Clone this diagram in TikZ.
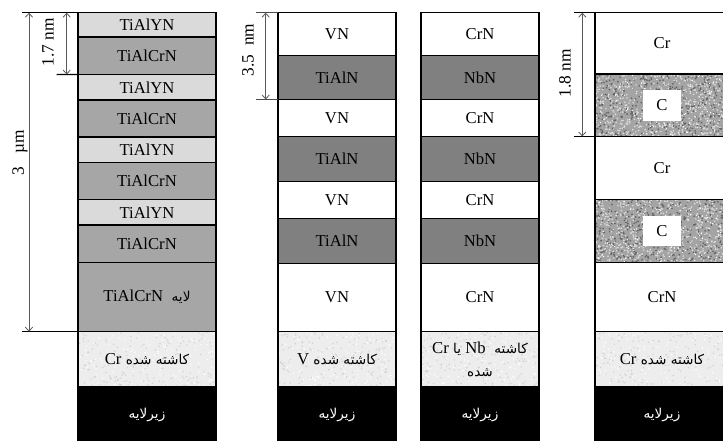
\documentclass[tikz,border=0pt]{standalone}
\usepackage{fontspec}
\setmainfont{Liberation Serif}
\newfontfamily\arabicfont[Script=Arabic]{DejaVu Sans}
\TeXXeTstate=1
\usetikzlibrary{arrows.meta}

\definecolor{yn}{HTML}{DADADA}
\definecolor{crn}{HTML}{A6A6A6}
\definecolor{aln}{HTML}{808080}
\definecolor{etch}{HTML}{EDEDED}
\definecolor{carb}{HTML}{A4A4A4}

\newcommand\fatext[1]{{\arabicfont\fontsize{10.2}{14}\selectfont\beginR #1\endR}}
\newcommand\latw[1]{\beginL{\rmfamily\fontsize{12.5}{14}\selectfont #1}\endL}
\newcommand\lay[7]{\node[#6, minimum width={(#3-#2)*0.75pt}, minimum height={(#5-#4)*0.75pt}] (#1) at (#2,#4) {#7};}
\newcommand\speck[7]{%
  \foreach \k in {1,...,#5}{%
    \pgfmathsetmacro\spx{#1+rnd*(#2-#1)}%
    \pgfmathsetmacro\spy{#3+rnd*(#4-#3)}%
    \fill[#6] (\spx,\spy) circle[radius=#7];}}
\newcommand\etchbg[4]{\begin{scope}\clip (#1,#3) rectangle (#2,#4);
  \fill[etch] (#1,#3) rectangle (#2,#4);
  \speck{#1}{#2}{#3}{#4}{170}{black!18}{0.6pt}
  \speck{#1}{#2}{#3}{#4}{120}{white}{0.6pt}\end{scope}}
\newcommand\carbbg[4]{\begin{scope}\clip (#1,#3) rectangle (#2,#4);
  \fill[carb] (#1,#3) rectangle (#2,#4);
  \speck{#1}{#2}{#3}{#4}{450}{black!62}{0.7pt}
  \speck{#1}{#2}{#3}{#4}{450}{black!14}{0.7pt}
  \speck{#1}{#2}{#3}{#4}{250}{white}{0.5pt}\end{scope}}

\tikzset{
  layer/.style={draw=black, line width=1.1pt, inner sep=0pt, outer sep=0pt,
    anchor=north west, font=\fontsize{12.5}{14}\selectfont, align=center},
  sub/.style={layer, fill=black, text=white},
  dimline/.style={draw=black!65, line width=0.6pt,
    {Straight Barb[length=3pt,width=5.5pt]}-{Straight Barb[length=3pt,width=5.5pt]}},
  extline/.style={draw=black, line width=0.9pt},
  dimlabel/.style={rotate=90, font=\fontsize{13}{15}\selectfont, inner sep=0pt},
  clabel/.style={fill=white, inner sep=0pt, minimum width=28.5pt,
    minimum height=23pt, font=\fontsize{12.5}{14}\selectfont}
}

\begin{document}
\begin{tikzpicture}[x=0.75pt,y=-0.75pt]
\useasboundingbox (0,0) rectangle (723,441);
\clip (0,0) rectangle (723,441);
\pgfmathsetseed{12}

% ---- column 1
\lay{a1}{78}{216}{12.7}{37.2}{layer,fill=yn}{TiAlYN}
\lay{a2}{78}{216}{37.2}{74.5}{layer,fill=crn}{TiAlCrN}
\lay{a3}{78}{216}{74.5}{100}{layer,fill=yn}{TiAlYN}
\lay{a4}{78}{216}{100}{137}{layer,fill=crn}{TiAlCrN}
\lay{a5}{78}{216}{137}{162.5}{layer,fill=yn}{TiAlYN}
\lay{a6}{78}{216}{162.5}{199.5}{layer,fill=crn}{TiAlCrN}
\lay{a7}{78}{216}{199.5}{225}{layer,fill=yn}{TiAlYN}
\lay{a8}{78}{216}{225}{262.7}{layer,fill=crn}{TiAlCrN}
\lay{a9}{78}{216}{262.7}{331.7}{layer,fill=crn}{\fatext{لایه \ \latw{TiAlCrN}}}
\etchbg{78}{216}{331.7}{386.7}
\lay{a10}{78}{216}{331.7}{386.7}{layer}{\fatext{کاشته شده \latw{Cr}}}
\lay{a11}{78}{216}{386.7}{444}{sub}{\fatext{زیرلایه}}

% ---- column 2
\lay{b1}{278}{396}{12.7}{55.5}{layer,fill=white}{VN}
\lay{b2}{278}{396}{55.5}{99.5}{layer,fill=aln}{TiAlN}
\lay{b3}{278}{396}{99.5}{136.5}{layer,fill=white}{VN}
\lay{b4}{278}{396}{136.5}{181.7}{layer,fill=aln}{TiAlN}
\lay{b5}{278}{396}{181.7}{218.3}{layer,fill=white}{VN}
\lay{b6}{278}{396}{218.3}{263.3}{layer,fill=aln}{TiAlN}
\lay{b7}{278}{396}{263.3}{331.7}{layer,fill=white}{VN}
\etchbg{278}{396}{331.7}{386.7}
\lay{b8}{278}{396}{331.7}{386.7}{layer}{\fatext{کاشته شده \latw{V}}}
\lay{b9}{278}{396}{386.7}{444}{sub}{\fatext{زیرلایه}}

% ---- column 3
\lay{c1}{421}{539}{12.7}{55.5}{layer,fill=white}{CrN}
\lay{c2}{421}{539}{55.5}{99.5}{layer,fill=aln}{NbN}
\lay{c3}{421}{539}{99.5}{136.5}{layer,fill=white}{CrN}
\lay{c4}{421}{539}{136.5}{181.7}{layer,fill=aln}{NbN}
\lay{c5}{421}{539}{181.7}{218.3}{layer,fill=white}{CrN}
\lay{c6}{421}{539}{218.3}{263.3}{layer,fill=aln}{NbN}
\lay{c7}{421}{539}{263.3}{331.7}{layer,fill=white}{CrN}
\etchbg{421}{539}{331.7}{386.7}
\lay{c8}{421}{539}{331.7}{386.7}{layer}{\fatext{کاشته \ \latw{Nb} یا \latw{Cr}}\\[3pt]\fatext{شده}}
\lay{c9}{421}{539}{386.7}{444}{sub}{\fatext{زیرلایه}}

% ---- column 4
\lay{d1}{595}{729}{12.7}{74}{layer,fill=white}{Cr}
\carbbg{595}{729}{74}{136.5}
\lay{d2}{595}{729}{74}{136.5}{layer}{}
\node[clabel] (d2c) at (d2.center) {C};
\lay{d3}{595}{729}{136.5}{199.5}{layer,fill=white}{Cr}
\carbbg{595}{729}{199.5}{262.7}
\lay{d4}{595}{729}{199.5}{262.7}{layer}{}
\node[clabel] (d4c) at (d4.center) {C};
\lay{d5}{595}{729}{262.7}{331.7}{layer,fill=white}{CrN}
\etchbg{595}{729}{331.7}{386.7}
\lay{d6}{595}{729}{331.7}{386.7}{layer}{\fatext{کاشته شده \latw{Cr}}}
\lay{d7}{595}{729}{386.7}{444}{sub}{\fatext{زیرلایه}}

% ---- dimensions
\coordinate (d3t) at (29,12.7);
\coordinate (d3b) at (29,331.7);
\coordinate (e3t) at (22,12.7);
\coordinate (e3b) at (22,331.7);
\draw[extline] (e3t) -- (a1.north west);
\draw[extline] (e3b) -- (a9.south west);
\draw[dimline] (d3t) -- (d3b);
\node[dimlabel] (l3) at (20,153) {3\ \ \ µm};

\coordinate (d17t) at (66.7,12.7);
\coordinate (d17b) at (66.7,74.5);
\coordinate (e17b) at (56.7,74.5);
\draw[extline] (e17b) -- (a2.south west);
\draw[dimline] (d17t) -- (d17b);
\node[dimlabel] (l17) at (48,42) {1.7 nm};

\coordinate (d35t) at (265.7,12.7);
\coordinate (d35b) at (265.7,99.5);
\coordinate (e35t) at (256,12.7);
\coordinate (e35b) at (256,99.5);
\draw[extline, black!70, line width=0.6pt] (e35t) -- (b1.north west);
\draw[extline, black!70, line width=0.6pt] (e35b) -- (b2.south west);
\draw[dimline] (d35t) -- (d35b);
\node[dimlabel] (l35) at (248,50) {3.5\ \ nm};

\coordinate (d18t) at (582.3,12.7);
\coordinate (d18b) at (582.3,136.5);
\coordinate (e18t) at (574,12.7);
\coordinate (e18b) at (574,136.5);
\draw[extline, line width=0.7pt] (e18t) -- (d1.north west);
\draw[extline, line width=0.7pt] (e18b) -- (d2.south west);
\draw[dimline] (d18t) -- (d18b);
\node[dimlabel] (l18) at (565,73) {1.8 nm};
\end{tikzpicture}
\end{document}
